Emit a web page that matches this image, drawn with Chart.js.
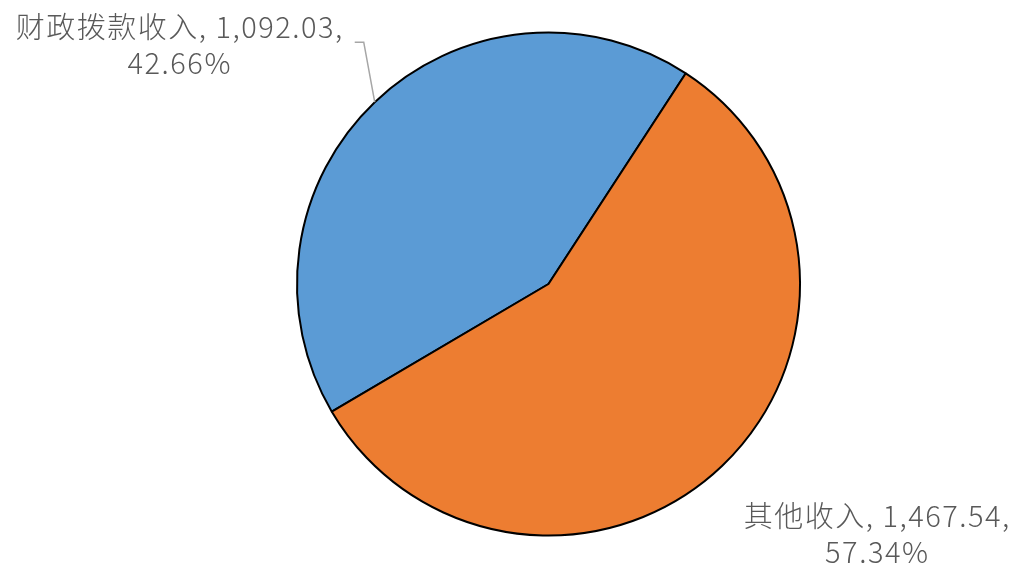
<!DOCTYPE html>
<html><head><meta charset="utf-8">
<script src="https://cdn.jsdelivr.net/npm/chart.js@4"></script>
<style>html,body{margin:0;padding:0;background:#fff}#wrap{width:1019px;height:566px}</style>
</head><body><div id="wrap"><canvas id="c" width="1019" height="566"></canvas></div>
<script>
const categories = ["财政拨款收入", "其他收入"];
const values = [1092.03, 1467.54];
const percentLabels = ["42.66%", "57.34%"];
const valueLabels = ["1,092.03", "1,467.54"];
const colors = ["#5B9BD5", "#ED7D31"];

const labelPlugin = {
  id: 'pieLabels',
  afterDraw(chart) {
    const ctx = chart.ctx;
    const meta = chart.getDatasetMeta(0);
    ctx.save();
    ctx.fillStyle = '#595959';
    ctx.textAlign = 'center';
    ctx.textBaseline = 'middle';
    ctx.font = '300 29px "Noto Sans CJK SC", "Noto Sans", sans-serif';
    try { ctx.letterSpacing = '1.5px'; } catch (e) {}
    meta.data.forEach((arc, i) => {
      const p = arc.getProps(['x','y','startAngle','endAngle','outerRadius'], true);
      const mid = (p.startAngle + p.endAngle) / 2;
      const ex = p.x + Math.cos(mid) * p.outerRadius;
      const ey = p.y + Math.sin(mid) * p.outerRadius;
      let tx, ty;
      if (i === 0) {
        tx = ex - 195; ty = ey - 75;
        ctx.strokeStyle = '#A6A6A6';
        ctx.lineWidth = 1.5;
        ctx.beginPath();
        ctx.moveTo(ex, ey);
        ctx.lineTo(ex - 11, ey - 60);
        ctx.lineTo(ex - 20, ey - 60);
        ctx.stroke();
      } else {
        tx = ex + 155; ty = ey + 50;
      }
      ctx.fillText(categories[i] + ", " + valueLabels[i] + ",", tx, ty);
      ctx.fillText(percentLabels[i], tx, ty + 36);
    });
    ctx.restore();
  }
};

new Chart(document.getElementById('c'), {
  type: 'pie',
  data: {
    labels: categories,
    datasets: [{
      data: values,
      backgroundColor: colors,
      borderColor: '#000000',
      borderWidth: 2
    }]
  },
  options: {
    responsive: false,
    animation: false,
    rotation: 239.5,
    layout: { padding: { top: 31, bottom: 29, left: 296, right: 218 } },
    plugins: { legend: { display: false }, tooltip: { enabled: false } }
  },
  plugins: [labelPlugin]
});
</script>
</body></html>
